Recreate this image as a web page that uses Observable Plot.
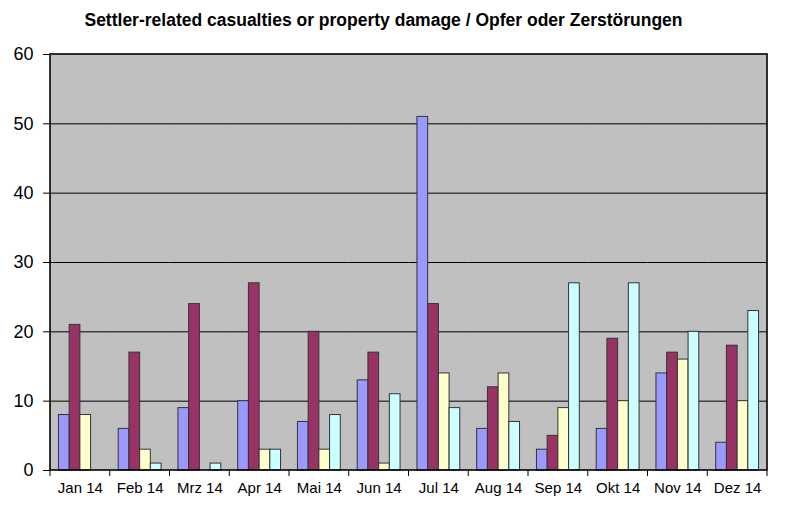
<!DOCTYPE html>
<html><head><meta charset="utf-8">
<script src="https://cdn.jsdelivr.net/npm/d3@7"></script>
<script src="https://cdn.jsdelivr.net/npm/@observablehq/plot@0.6"></script>
<style>
body{margin:0;background:#fff;font-family:"Liberation Sans",Arial,sans-serif;}
#title{width:767px;height:38px;line-height:40px;text-align:center;font-weight:bold;font-size:17.5px;color:#000;}
</style></head><body>
<div id="title">Settler-related casualties or property damage / Opfer oder Zerstörungen</div>
<div id="chart"></div>
<script>
const months = ["Jan 14","Feb 14","Mrz 14","Apr 14","Mai 14","Jun 14","Jul 14","Aug 14","Sep 14","Okt 14","Nov 14","Dez 14"];
const seriesKeys = ["Reihe 1","Reihe 2","Reihe 3","Reihe 4"];
const series1 = [8, 6, 9, 10, 7, 13, 51, 6, 3, 6, 14, 4];
const series2 = [21, 17, 24, 27, 20, 17, 24, 12, 5, 19, 17, 18];
const series3 = [8, 3, 0, 3, 3, 1, 14, 14, 9, 10, 16, 10];
const series4 = [0, 1, 1, 3, 8, 11, 9, 7, 27, 27, 20, 23];
const seriesColors = ["#9999ff", "#993366", "#ffffcc", "#ccffff"];
const yTicks = [0, 10, 20, 30, 40, 50, 60];

const allSeries = [series1, series2, series3, series4];
const data = [];
months.forEach((m, i) => {
  seriesKeys.forEach((s, j) => data.push({month: m, series: s, value: allSeries[j][i]}));
});

const chart = Plot.plot({
  width: 800,
  height: 480,
  marginTop: 16,
  marginBottom: 48,
  marginLeft: 50,
  marginRight: 33,
  style: {fontFamily: "'Liberation Sans', Arial, sans-serif", background: "white", color: "#000"},
  fx: {domain: months, padding: 0, round: false, label: null},
  x: {domain: seriesKeys, paddingInner: 0, paddingOuter: 0.79, round: false, axis: null},
  y: {domain: [0, 60], label: null},
  color: {domain: seriesKeys, range: seriesColors},
  marks: [
    Plot.ruleY(yTicks.filter(d => d > 0 && d < 60), {stroke: "#000", strokeWidth: 1}),
    Plot.barY(data, {fx: "month", x: "series", y: "value", fill: "series", stroke: "#333", strokeWidth: 1}),
    Plot.axisY({ticks: yTicks, tickSize: 7, tickPadding: 10, fontSize: 18, label: null}),
    Plot.axisFx({anchor: "bottom", tickSize: 0, tickPadding: 12, fontSize: 15, label: null})
  ]
});
document.getElementById("chart").appendChild(chart);

// background, frame and category boundary ticks from the plot's scales
const fxs = chart.scale("fx");
const ys = chart.scale("y");
const band = d3.scaleBand(fxs.domain, fxs.range);
const x0 = band.range()[0], x1 = band.range()[1];
const yTop = ys.apply(60), yBot = ys.apply(0);
const svg = d3.select(chart);
svg.insert("rect", ":first-child")
  .attr("x", x0).attr("y", yTop).attr("width", x1 - x0).attr("height", yBot - yTop)
  .attr("fill", "#c0c0c0");
const g = svg.append("g");
g.append("rect")
  .attr("x", x0).attr("y", yTop).attr("width", x1 - x0).attr("height", yBot - yTop)
  .attr("fill", "none").attr("stroke", "#000").attr("stroke-width", 1.6);
const bounds = band.domain().map(d => band(d)).concat([x1]);
g.selectAll("line.bt").data(bounds).join("line")
  .attr("x1", d => d).attr("x2", d => d)
  .attr("y1", yBot).attr("y2", yBot + 6)
  .attr("stroke", "#000").attr("stroke-width", 1);
</script>
</body></html>
